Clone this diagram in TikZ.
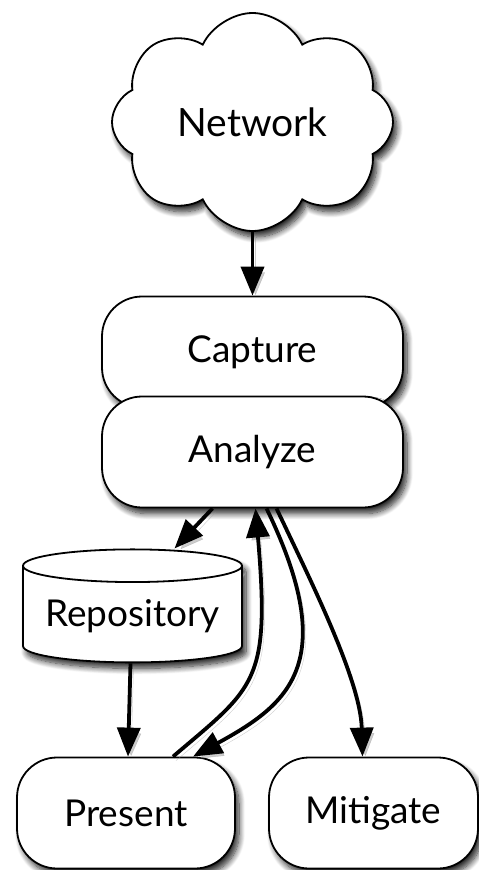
\documentclass[tikz,border=0pt]{standalone}
\usepackage{fontspec}
\setmainfont{Lato}
\usetikzlibrary{shapes.symbols,shapes.geometric,shadows,shadows.blur,arrows.meta}

\tikzset{
    soft/.style={blur shadow={shadow xshift=4pt,shadow yshift=-6pt,shadow blur steps=10,shadow blur radius=6pt,shadow opacity=85}},
    stage/.style={draw,line width=1.8pt,fill=white,rounded corners=40pt,minimum height=111pt,soft,
        font=\fontsize{37}{44}\selectfont},
    flow/.style={line width=3.8pt,-{Triangle[length=29pt,width=23pt]},
        preaction={draw,black!40,opacity=.5,transform canvas={shift={(3pt,-4pt)}}}},
}

\begin{document}
\begin{tikzpicture}[x=1pt,y=1pt]
    \useasboundingbox (0,0) rectangle (479,-870);

    \node[cloud,cloud puffs=8,cloud puff arc=130,aspect=1.25,draw,line width=1.8pt,fill=white,
        minimum width=281pt,minimum height=218pt,soft,
        font=\fontsize{39}{46}\selectfont] (network) at (252.5,-122) {Network};

    \node[stage,minimum width=301pt] (capture) at (252.5,-352) {Capture};
    \node[stage,minimum width=301pt] (analyze) at (252.5,-452) {Analyze};

    \node[cylinder,shape border rotate=90,aspect=0.18,draw,line width=1.8pt,fill=white,
        minimum width=219pt,minimum height=113pt,soft,
        font=\fontsize{37}{44}\selectfont] (repo) at (132.5,-616.5) {Repository};

    \node[stage,minimum width=218pt] (present) at (126,-813) {Present};
    \node[stage,minimum width=209pt] (mitigate) at (373.5,-813) {Mitigate};

    \draw[flow](network.south)--(capture.north);

    \draw[flow]([xshift=-40pt]analyze.south)--([xshift=42pt]repo.north);
    \draw[flow]([xshift=-2pt]repo.south)--([xshift=2pt]present.north);

    %\draw[flow](present.north)--(analyze.south);
    \draw[flow]([xshift=47pt]present.north) .. controls +(82,70) and +(15,-175) .. ([xshift=3pt]analyze.south);
    \draw[flow]([xshift=14pt]analyze.south) .. controls +(75,-155) and +(95,52) .. ([xshift=67pt]present.north);

    \draw[flow]([xshift=24pt]analyze.south) .. controls +(33,-70) and +(-2,77) .. ([xshift=-11pt]mitigate.north);
\end{tikzpicture}
\end{document}
